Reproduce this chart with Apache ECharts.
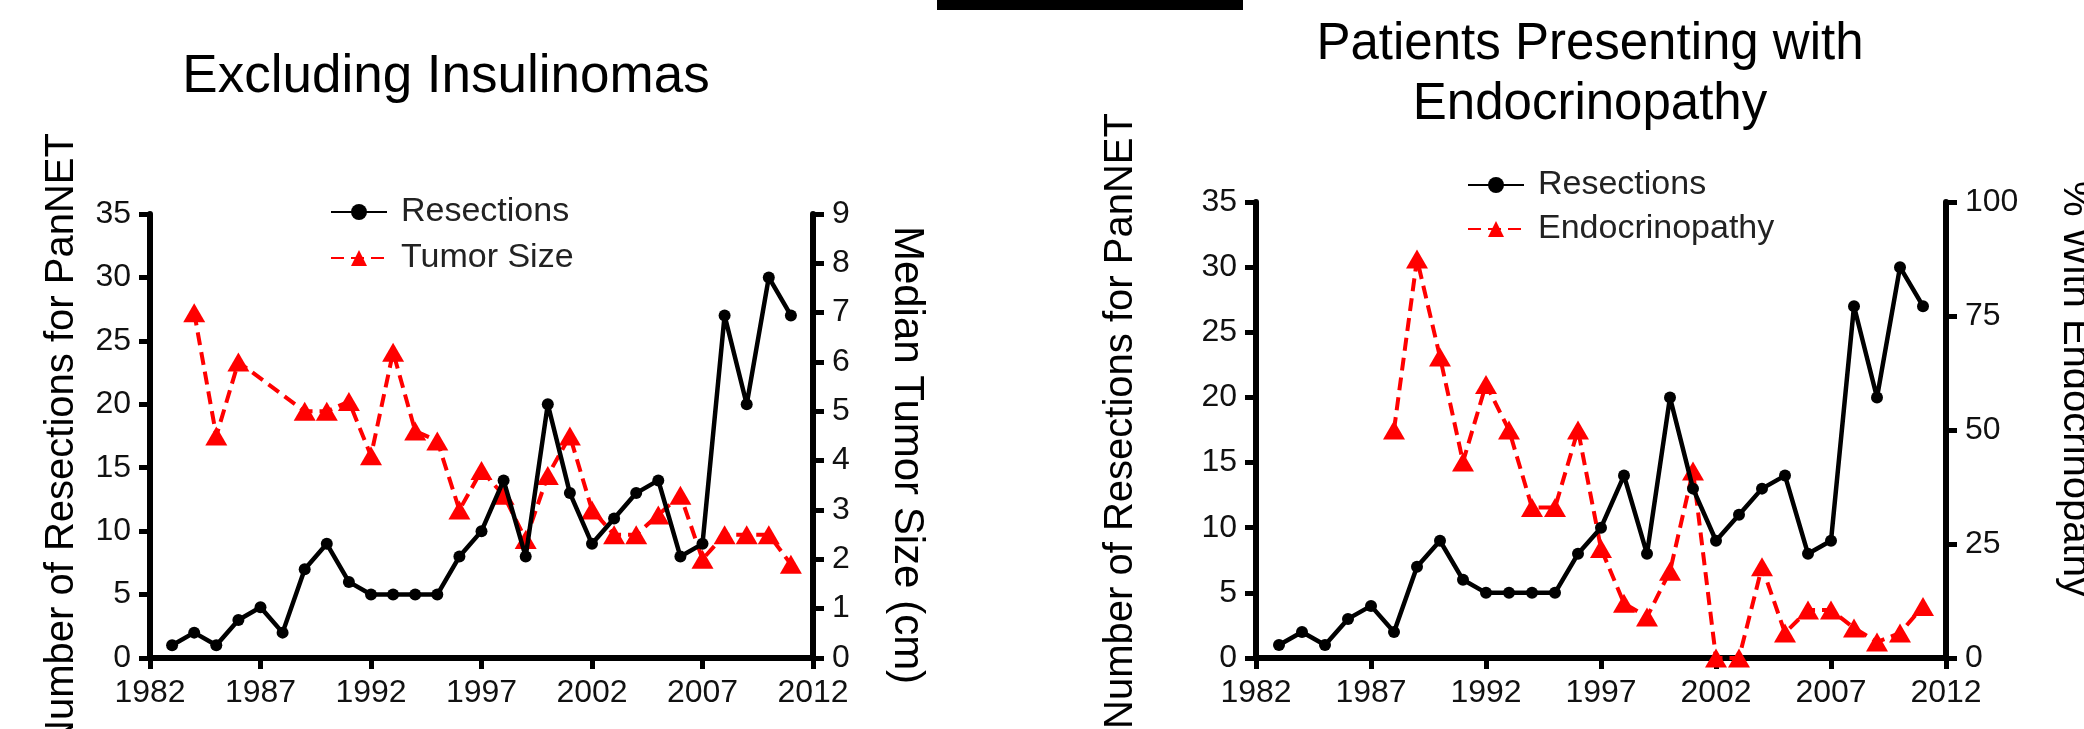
<!DOCTYPE html>
<html>
<head>
<meta charset="utf-8">
<script src="https://cdn.jsdelivr.net/npm/echarts@6/dist/echarts.min.js"></script>
<style>
  html, body { margin: 0; padding: 0; background: #fff; }
  #chart { width: 2084px; height: 729px; }
</style>
</head>
<body>
<div id="chart"></div>
<script>
// years with a value, 1983..2011
const years = [1983, 1984, 1985, 1986, 1987, 1988, 1989, 1990, 1991, 1992,
  1993, 1994, 1995, 1996, 1997, 1998, 1999, 2000, 2001, 2002,
  2003, 2004, 2005, 2006, 2007, 2008, 2009, 2010, 2011]
const yearTicks = [1982, 1987, 1992, 1997, 2002, 2007, 2012]

// resections per year (same in both panels)
const resections = [1, 2, 1, 3, 4, 2, 7, 9, 6, 5,
  5, 5, 5, 8, 10, 14, 8, 20, 13, 9,
  11, 13, 14, 8, 9, 27, 20, 30, 27]

// median tumor size (cm), excluding insulinomas
const tumorSize = [null, 7.0, 4.5, 6.0, null, null, 5.0, 5.0, 5.2, 4.1,
  6.2, 4.6, 4.4, 3.0, 3.8, 3.3, 2.4, 3.7, 4.5, 3.0,
  2.5, 2.5, 2.9, 3.3, 2.0, 2.5, 2.5, 2.5, 1.9]

// % presenting with endocrinopathy
const endocrinopathy = [null, null, null, null, null, 50, 87.5, 66, 43, 60,
  50, 33, 33, 50, 24, 12, 9, 19, 41, 0,
  0, 20, 5.5, 10.5, 10.5, 6.6, 3.5, 5.5, 11.3]

const font = '"Liberation Sans", Arial, sans-serif'

const pairs = (arr) => years.map((y, i) => [y, arr[i]])

const xAxisBase = (gridIndex) => ({
  type: 'value',
  gridIndex: gridIndex,
  min: 1982,
  max: 2012,
  splitLine: { show: false },
  axisLine: { show: true, lineStyle: { color: '#000', width: 6 } },
  axisTick: { show: true, customValues: yearTicks, length: 11, lineStyle: { color: '#000', width: 5 } },
  axisLabel: {
    customValues: yearTicks, fontSize: 32, color: '#111', margin: 19, fontFamily: font,
    formatter: (v) => String(v)
  }
})

const yAxisBase = (gridIndex, pos, max, interval) => ({
  type: 'value',
  gridIndex: gridIndex,
  position: pos,
  min: 0,
  max: max,
  interval: interval,
  splitLine: { show: false },
  axisLine: { show: true, lineStyle: { color: '#000', width: 6 } },
  axisTick: { show: true, length: 11, lineStyle: { color: '#000', width: 5 } },
  axisLabel: { fontSize: 32, color: '#111', margin: 19, fontFamily: font }
})

const blackLine = (xi, yi) => ({
  name: 'Resections',
  type: 'line',
  xAxisIndex: xi,
  yAxisIndex: yi,
  data: pairs(resections),
  symbol: 'circle',
  symbolSize: 12,
  itemStyle: { color: '#000' },
  lineStyle: { color: '#000', width: 4.5 },
  z: 3
})

const redLine = (name, arr, xi, yi) => ({
  name: name,
  type: 'line',
  xAxisIndex: xi,
  yAxisIndex: yi,
  data: pairs(arr),
  connectNulls: true,
  symbol: 'triangle',
  symbolSize: [22, 19],
  itemStyle: { color: '#ff0000' },
  lineStyle: { color: '#ff0000', width: 4, type: [13, 7] },
  z: 2
})

const legendBase = {
  orient: 'vertical',
  itemWidth: 56,
  itemHeight: 20,
  itemGap: 12,
  textStyle: { fontSize: 34, color: '#222', fontFamily: font, padding: [0, 0, 0, 9] }
}

// rotated axis titles
const axisTitle = (text, x, y, rotation, size) => ({
  type: 'text',
  x: x,
  y: y,
  rotation: rotation,
  style: {
    text: text,
    fill: '#000',
    font: size + 'px ' + font,
    align: 'center',
    verticalAlign: 'middle'
  }
})

const chart = echarts.init(document.getElementById('chart'))

chart.setOption({
  animation: false,
  backgroundColor: '#fff',
  title: [
    {
      text: 'Excluding Insulinomas',
      left: 441, top: 42, textAlign: 'center',
      textStyle: { fontSize: 53, fontWeight: 'normal', color: '#000', fontFamily: font, lineHeight: 60 }
    },
    {
      text: 'Patients Presenting with\nEndocrinopathy',
      left: 1585, top: 10, textAlign: 'center',
      textStyle: { fontSize: 51, fontWeight: 'normal', color: '#000', fontFamily: font, lineHeight: 60 }
    }
  ],
  graphic: [
    { type: 'rect', shape: { x: 937, y: 0, width: 306, height: 10 }, style: { fill: '#000' } },
    axisTitle('Number of Resections for PanNET', 62, 441, Math.PI / 2, 40),
    axisTitle('Median Tumor Size (cm)', 907, 455, -Math.PI / 2, 42),
    axisTitle('Number of Resections for PanNET', 1121, 421, Math.PI / 2, 40),
    axisTitle('% With Endocrinopathy', 2075, 389, -Math.PI / 2, 40)
  ],
  legend: [
    Object.assign({}, legendBase, { data: ['Resections', 'Tumor Size'], left: 325, top: 190 }),
    Object.assign({}, legendBase, { data: ['Resections', 'Endocrinopathy'], left: 1462, top: 163, itemGap: 10 })
  ],
  grid: [
    { left: 150, top: 214, width: 663, height: 444 },
    { left: 1256, top: 202, width: 690, height: 456 }
  ],
  xAxis: [xAxisBase(0), xAxisBase(1)],
  yAxis: [
    yAxisBase(0, 'left', 35, 5),
    yAxisBase(0, 'right', 9, 1),
    yAxisBase(1, 'left', 35, 5),
    yAxisBase(1, 'right', 100, 25)
  ],
  series: [
    redLine('Tumor Size', tumorSize, 0, 1),
    blackLine(0, 0),
    redLine('Endocrinopathy', endocrinopathy, 1, 3),
    blackLine(1, 2)
  ]
})
</script>
</body>
</html>
